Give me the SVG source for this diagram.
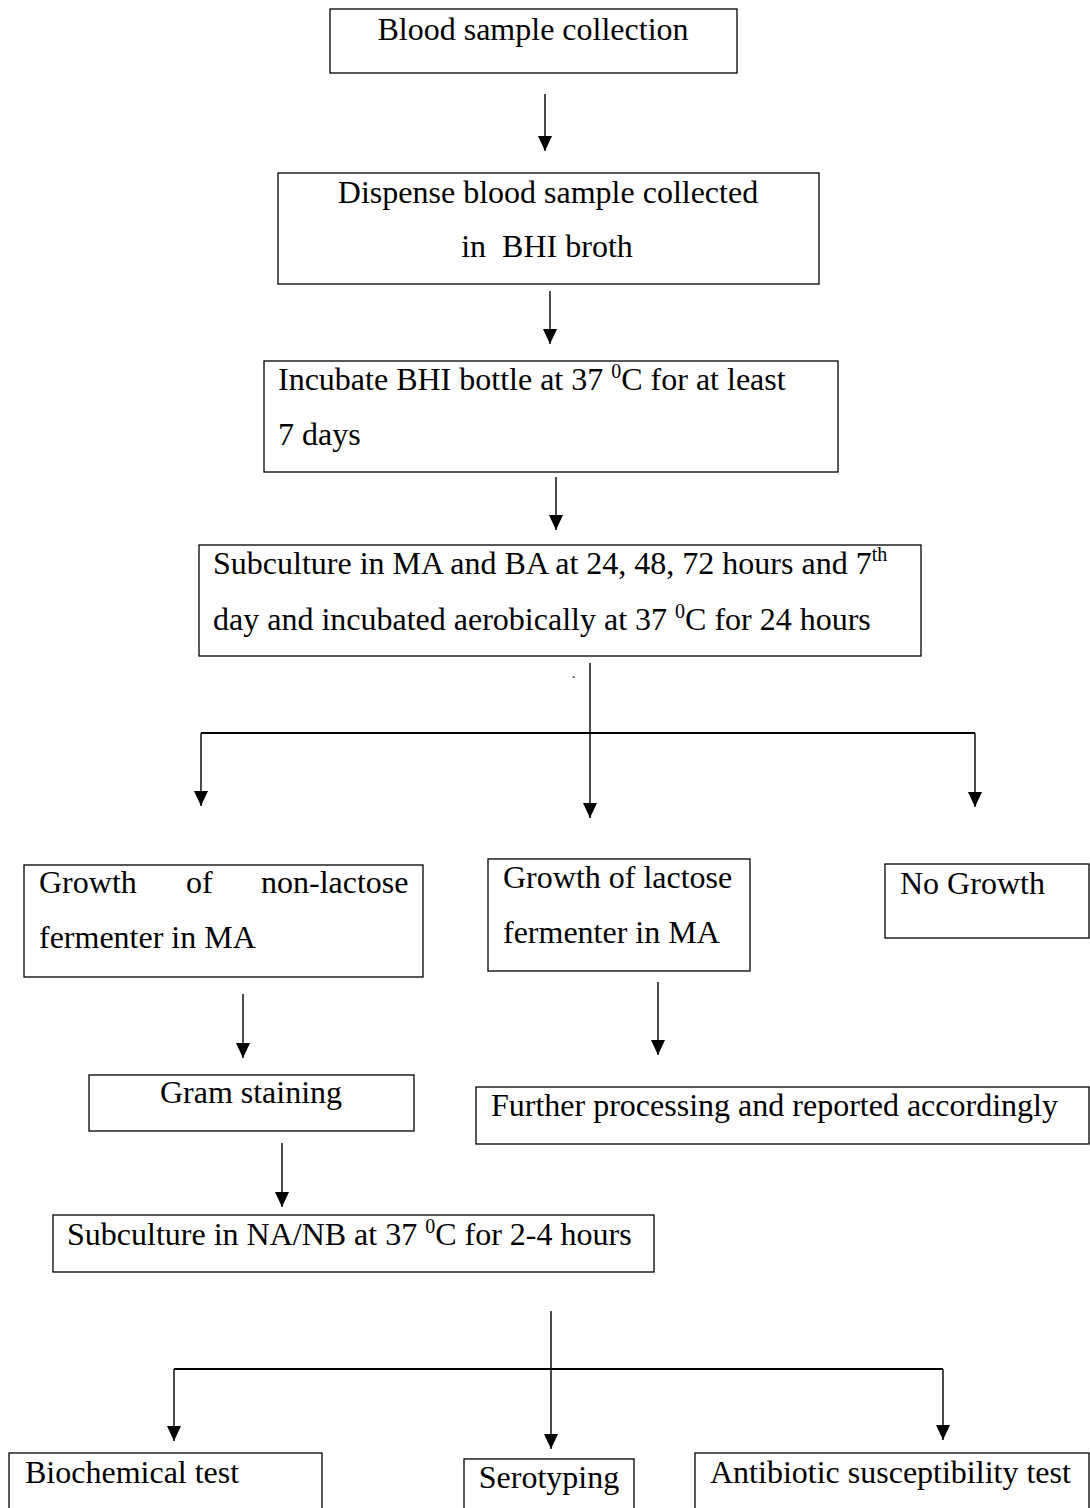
<svg xmlns="http://www.w3.org/2000/svg" width="1090" height="1508" viewBox="0 0 1090 1508">
<style>
.box{fill:#fff;stroke:#000;stroke-width:1.3}
.t{font-family:"Liberation Serif","Times New Roman",serif;font-size:32px;fill:#000}
.c{text-anchor:middle}
.sup{font-size:20px}
.ln{stroke:#000;stroke-width:1.4;fill:none}
.br{stroke:#000;stroke-width:2.2;fill:none}
.ar{stroke:#000;stroke-width:1.4;fill:none;marker-end:url(#ah)}
</style>
<defs>
<marker id="ah" markerUnits="userSpaceOnUse" markerWidth="15" markerHeight="14" refX="15" refY="7" orient="auto">
<path d="M0,0 L15,7 L0,14 z" fill="#000"/>
</marker>
</defs>
<rect width="1090" height="1508" fill="#fff"/>
<g id="connectors">
<line class="ar" x1="545" y1="94" x2="545" y2="151"/>
<line class="ar" x1="550" y1="291" x2="550" y2="344"/>
<line class="ar" x1="556" y1="477" x2="556" y2="530"/>
<line class="ln" x1="590" y1="663" x2="590" y2="733"/>
<line class="br" x1="201" y1="733" x2="975" y2="733"/>
<line class="ar" x1="590" y1="733" x2="590" y2="818"/>
<line class="ar" x1="201" y1="733" x2="201" y2="806"/>
<line class="ar" x1="975" y1="733" x2="975" y2="807"/>
<line class="ar" x1="243" y1="994" x2="243" y2="1058"/>
<line class="ar" x1="658" y1="982" x2="658" y2="1055"/>
<line class="ar" x1="282" y1="1143" x2="282" y2="1207"/>
<line class="ln" x1="551" y1="1311" x2="551" y2="1369"/>
<line class="br" x1="174" y1="1369" x2="943" y2="1369"/>
<line class="ar" x1="551" y1="1369" x2="551" y2="1449"/>
<line class="ar" x1="174" y1="1369" x2="174" y2="1441"/>
<line class="ar" x1="943" y1="1369" x2="943" y2="1440"/>
</g>
<g id="n1"><rect class="box" x="330" y="9" width="407" height="64"/>
<text class="t c" x="533" y="40">Blood sample collection</text></g>
<g id="n2"><rect class="box" x="278" y="173" width="541" height="111"/>
<text class="t c" x="548" y="203">Dispense blood sample collected</text>
<text class="t c" x="547" y="257" xml:space="preserve">in  BHI broth</text></g>
<g id="n3"><rect class="box" x="264" y="361" width="574" height="111"/>
<text class="t" x="278" y="390">Incubate BHI bottle at 37 <tspan class="sup" dy="-12">0</tspan><tspan dy="12">C for at least</tspan></text>
<text class="t" x="278" y="445">7 days</text></g>
<g id="n4"><rect class="box" x="199" y="545" width="722" height="111"/>
<text class="t" x="213" y="574">Subculture in MA and BA at 24, 48, 72 hours and 7<tspan class="sup" dy="-13">th</tspan></text>
<text class="t" x="213" y="630">day and incubated aerobically at 37 <tspan class="sup" dy="-12">0</tspan><tspan dy="12">C for 24 hours</tspan></text>
<text class="t" x="572" y="678" style="font-size:14px">.</text></g>
<g id="n5"><rect class="box" x="24" y="865" width="399" height="112"/>
<text class="t" y="893"><tspan x="39">Growth</tspan><tspan x="186">of</tspan><tspan x="261">non-lactose</tspan></text>
<text class="t" x="39" y="948">fermenter in MA</text></g>
<g id="n6"><rect class="box" x="488" y="859" width="262" height="112"/>
<text class="t" x="503" y="888">Growth of lactose</text>
<text class="t" x="503" y="943">fermenter in MA</text></g>
<g id="n7"><rect class="box" x="885" y="864" width="204" height="74"/>
<text class="t" x="900" y="894">No Growth</text></g>
<g id="n8"><rect class="box" x="89" y="1075" width="325" height="56"/>
<text class="t c" x="251" y="1103">Gram staining</text></g>
<g id="n9"><rect class="box" x="476" y="1087" width="613" height="57"/>
<text class="t" x="491" y="1116">Further processing and reported accordingly</text></g>
<g id="n10"><rect class="box" x="53" y="1215" width="601" height="57"/>
<text class="t" x="67" y="1245">Subculture in NA/NB at 37 <tspan class="sup" dy="-12">0</tspan><tspan dy="12">C for 2-4 hours</tspan></text></g>
<g id="n11"><rect class="box" x="9" y="1453" width="313" height="70"/>
<text class="t" x="25" y="1483">Biochemical test</text></g>
<g id="n12"><rect class="box" x="464" y="1459" width="170" height="70"/>
<text class="t c" x="549" y="1488">Serotyping</text></g>
<g id="n13"><rect class="box" x="695" y="1453" width="394" height="70"/>
<text class="t" x="710" y="1483">Antibiotic susceptibility test</text></g>
</svg>
